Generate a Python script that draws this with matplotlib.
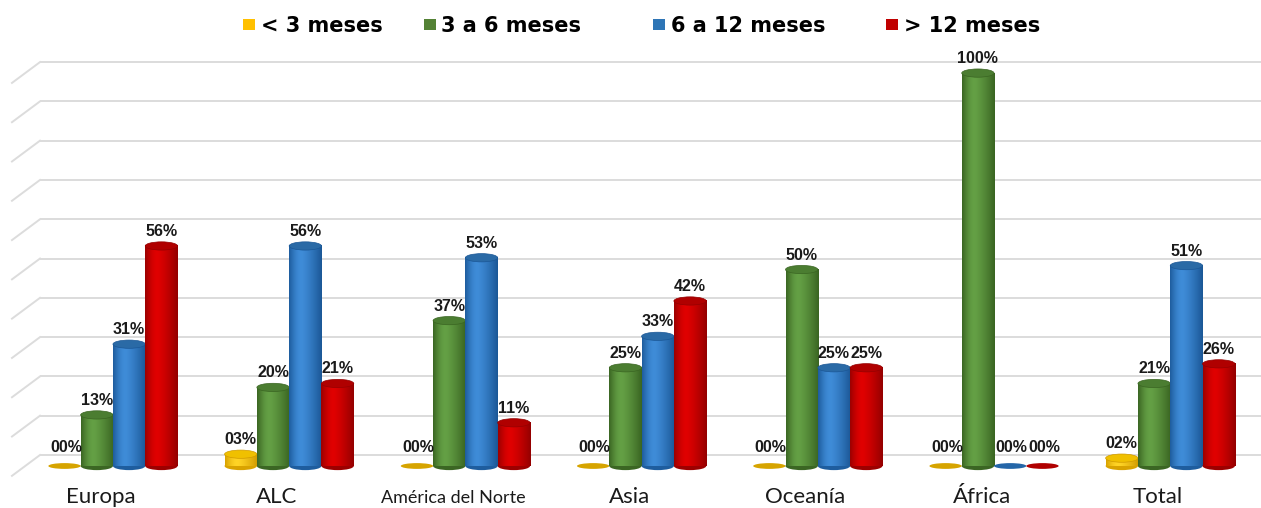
import numpy as np
import matplotlib
matplotlib.use("Agg")
import matplotlib.pyplot as plt
from matplotlib.patches import Ellipse, Rectangle
from matplotlib.colors import to_rgb

# ---------------- data ----------------
categories = ["Europa", "ALC", "América del Norte", "Asia", "Oceanía", "África", "Total"]
series_names = ["< 3 meses", "3 a 6 meses", "6 a 12 meses", "> 12 meses"]
lt3 = [0, 3, 0, 0, 0, 0, 2]
m3_6 = [13, 20, 37, 25, 50, 100, 21]
m6_12 = [31, 56, 53, 33, 25, 0, 51]
gt12 = [56, 21, 11, 42, 25, 0, 26]
labels_lt3 = ["00%", "03%", "00%", "00%", "00%", "00%", "02%"]
labels_m3_6 = ["13%", "20%", "37%", "25%", "50%", "100%", "21%"]
labels_m6_12 = ["31%", "56%", "53%", "33%", "25%", "00%", "51%"]
labels_gt12 = ["56%", "21%", "11%", "42%", "25%", "00%", "26%"]
grid_ticks = list(range(0, 101, 10))

series = [lt3, m3_6, m6_12, gt12]
series_labels = [labels_lt3, labels_m3_6, labels_m6_12, labels_gt12]

# colour styles: (dark edge, light centre, dark right edge, top, flat)
styles = [
    ("#D9A300", "#FFD426", "#D09A00", "#F0C000", "#D6A400"),
    ("#3B6623", "#64A045", "#3A6522", "#4B7D31", "#4B7D31"),
    ("#1E5D9E", "#3F8CD8", "#1B5796", "#2A6AA6", "#2466A8"),
    ("#9C0000", "#E00000", "#940000", "#B00000", "#B00000"),
]
legend_colors = ["#FFC000", "#548235", "#2E75B6", "#C00000"]

# ---------------- figure ----------------
fig = plt.figure(figsize=(12.61, 5.08), dpi=100)
ax = fig.add_axes([0, 0, 1, 1])
ax.set_axis_off()
XL = (-0.641, 6.515)
YL = (-10.69, 118.6)

# back-wall grid (offset for the 3D depth) and the left side diagonals
g_off = 2.8
for t in grid_ticks:
    yv = t + g_off
    ax.plot([-0.414, XL[1]], [yv, yv], color="#DCDCDC", lw=1.4, zorder=1,
            solid_capstyle="butt")
    ax.plot([-0.573, -0.414], [yv - 5.3, yv], color="#DCDCDC", lw=1.4, zorder=1)

bw = 0.1833
eh = 2.1   # ellipse height (data units)

def gradient(c0, c1, c2, n=64):
    c0, c1, c2 = map(np.array, (to_rgb(c0), to_rgb(c1), to_rgb(c2)))
    t = np.linspace(0, 1, n)
    out = np.zeros((1, n, 3))
    for k, tt in enumerate(t):
        if tt < 0.38:
            f = tt / 0.38
            f = np.sin(f * np.pi / 2)
            out[0, k] = c0 * (1 - f) + c1 * f
        else:
            f = (tt - 0.38) / 0.62
            f = f ** 1.3
            out[0, k] = c1 * (1 - f) + c2 * f
    return out

for j, (vals, labs) in enumerate(zip(series, series_labels)):
    c0, c1, c2, ctop, cflat = styles[j]
    grad = gradient(c0, c1, c2)
    for i, v in enumerate(vals):
        x = i + (j - 1.5) * bw
        z = 3 + j * 0.1 + i * 0.001
        if v == 0:
            ax.add_patch(Ellipse((x, 0), bw, eh * 0.7, facecolor=cflat,
                                 edgecolor="none", zorder=z))
            ax.text(x + 0.008, 4.8, labs[i], ha="center", va="center",
                    fontsize=11.5, fontweight="bold", family="Liberation Sans",
                    color="#1A1A1A", zorder=10)
            continue
        # bottom ellipse
        ax.add_patch(Ellipse((x, 0), bw, eh, facecolor=c0, edgecolor="none",
                             zorder=z))
        # body with horizontal shading
        ax.imshow(grad, extent=(x - bw / 2, x + bw / 2, 0, v), aspect="auto",
                  interpolation="bilinear", zorder=z + 0.01)
        # top ellipse
        ax.add_patch(Ellipse((x, v), bw, eh, facecolor=ctop, edgecolor=c2,
                             lw=0.5, zorder=z + 0.02))
        ax.text(x, v + 3.7, labs[i], ha="center", va="center",
                fontsize=11.5, fontweight="bold", family="Liberation Sans",
                color="#1A1A1A", zorder=10)

# category labels
for i, cat in enumerate(categories):
    fs = 13 if len(cat) > 10 else 16
    ax.text(i - 0.07, -9.4, cat, ha="center", va="baseline", fontsize=fs,
            family="Lato", color="#1A1A1A")

ax.set_xlim(*XL)
ax.set_ylim(*YL)

# legend (figure pixel coordinates from top-left)
W, H = 1261, 508
marker_left = [243, 424, 653, 886]
text_left = [261, 441, 671, 904]
for name, col, ml, tl in zip(series_names, legend_colors, marker_left, text_left):
    fig.add_artist(Rectangle((ml / W, 1 - 30 / H), 12 / W, 11 / H,
                             transform=fig.transFigure, facecolor=col,
                             edgecolor="none"))
    fig.text(tl / W, 1 - 25.8 / H, name, ha="left", va="center",
             fontsize=15, fontweight="bold", family="DejaVu Sans",
             color="#000000")

fig.savefig("out.png", dpi=100)
